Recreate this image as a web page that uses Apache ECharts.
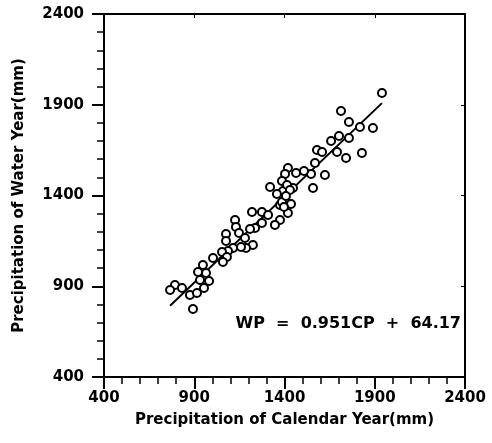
<!DOCTYPE html>
<html>
<head>
<meta charset="utf-8">
<script src="https://cdn.jsdelivr.net/npm/echarts@6/dist/echarts.min.js"></script>
<style>
  html, body { margin: 0; padding: 0; background: #fff; }
  #chart { width: 492px; height: 443px; }
</style>
</head>
<body>
<div id="chart"></div>
<script>
// 降水量：日历年 (CP) vs 水文年 (WP)，散点 + 回归线

const calendarYear = [
  1940, 1713, 1757, 1818, 1890, 1702, 1658, 1757, 1580, 1608,
  1691, 1741, 1829, 1569, 1547, 1508, 1464, 1624, 1419, 1403,
  1386, 1320, 1447, 1558, 1392, 1358, 1414, 1403, 1436, 1375,
  1419, 1220, 1275, 1309, 1126, 1375, 1347, 1275, 1237, 1209,
  1131, 1148, 1181, 1076, 1076, 1225, 1187, 1159, 1115, 1087,
  1054, 1081, 1059, 1004, 948, 921, 965, 932, 982, 793,
  766, 832, 876, 915, 954, 893, 1430, 1386, 1408, 1397
]
const waterYear = [
  1965, 1866, 1805, 1777, 1772, 1728, 1700, 1717, 1651, 1640,
  1640, 1607, 1634, 1579, 1519, 1535, 1524, 1513, 1552, 1519,
  1480, 1447, 1441, 1441, 1425, 1408, 1458, 1375, 1353, 1348,
  1304, 1309, 1309, 1293, 1265, 1265, 1238, 1249, 1221, 1215,
  1227, 1193, 1166, 1188, 1149, 1127, 1111, 1116, 1111, 1094,
  1089, 1061, 1034, 1056, 1017, 979, 973, 934, 929, 907,
  879, 890, 852, 863, 890, 775, 1430, 1364, 1397, 1337
]

// 回归线两端（WP = 0.951CP + 64.17）
const fitLine = [[766, 793], [1940, 1909]]
const equation = 'WP  =  0.951CP  +  64.17'

const FONT = 'DejaVu Sans'

const chart = echarts.init(document.getElementById('chart'), null, { renderer: 'canvas' })

const axisCommon = {
  min: 400,
  max: 2400,
  interval: 500,
  axisLine: { show: true, onZero: false, lineStyle: { color: '#000', width: 2 } },
  axisTick: { show: true, length: 12, lineStyle: { color: '#000', width: 2 } },
  minorTick: { show: true, splitNumber: 5, length: 7, lineStyle: { color: '#000', width: 1.5 } },
  splitLine: { show: false },
  nameLocation: 'middle',
  nameTextStyle: { fontFamily: FONT, fontWeight: 'bold', fontSize: 15, color: '#000' },
  axisLabel: {
    fontFamily: FONT, fontWeight: 'bold', fontSize: 15, color: '#000',
    formatter: (v) => String(v) // 不要千分位
  }
}

// 右、上边框的短刻度
const frameAxis = {
  min: 400,
  max: 2400,
  interval: 500,
  axisLine: { show: true, onZero: false, lineStyle: { color: '#000', width: 2 } },
  axisTick: { show: true, inside: true, length: 4, lineStyle: { color: '#000', width: 1 } },
  minorTick: { show: false },
  axisLabel: { show: false },
  splitLine: { show: false }
}

chart.setOption({
  animation: false,
  backgroundColor: '#fff',
  grid: { left: 104, right: 27, top: 14, bottom: 66 },
  xAxis: [
    Object.assign({}, axisCommon, {
      type: 'value',
      position: 'bottom',
      name: 'Precipitation of Calendar Year(mm)',
      nameGap: 36,
      axisLabel: Object.assign({}, axisCommon.axisLabel, { margin: 14 })
    }),
    Object.assign({}, frameAxis, { type: 'value', position: 'top' })
  ],
  yAxis: [
    Object.assign({}, axisCommon, {
      type: 'value',
      position: 'left',
      name: 'Precipitation of Water Year(mm)',
      nameGap: 77,
      axisLabel: Object.assign({}, axisCommon.axisLabel, { margin: 20 })
    }),
    Object.assign({}, frameAxis, { type: 'value', position: 'right' })
  ],
  graphic: [{
    type: 'text',
    right: 31,
    top: 316,
    style: {
      text: equation,
      font: 'bold 16px ' + FONT,
      fill: '#000'
    }
  }],
  series: [
    {
      type: 'line',
      data: fitLine,
      symbol: 'none',
      lineStyle: { color: '#000', width: 2 },
      z: 1
    },
    {
      type: 'scatter',
      data: calendarYear.map((x, i) => [x, waterYear[i]]),
      symbol: 'circle',
      symbolSize: 8,
      itemStyle: { color: '#fff', borderColor: '#000', borderWidth: 2, opacity: 1 },
      z: 2
    }
  ]
})
</script>
</body>
</html>
